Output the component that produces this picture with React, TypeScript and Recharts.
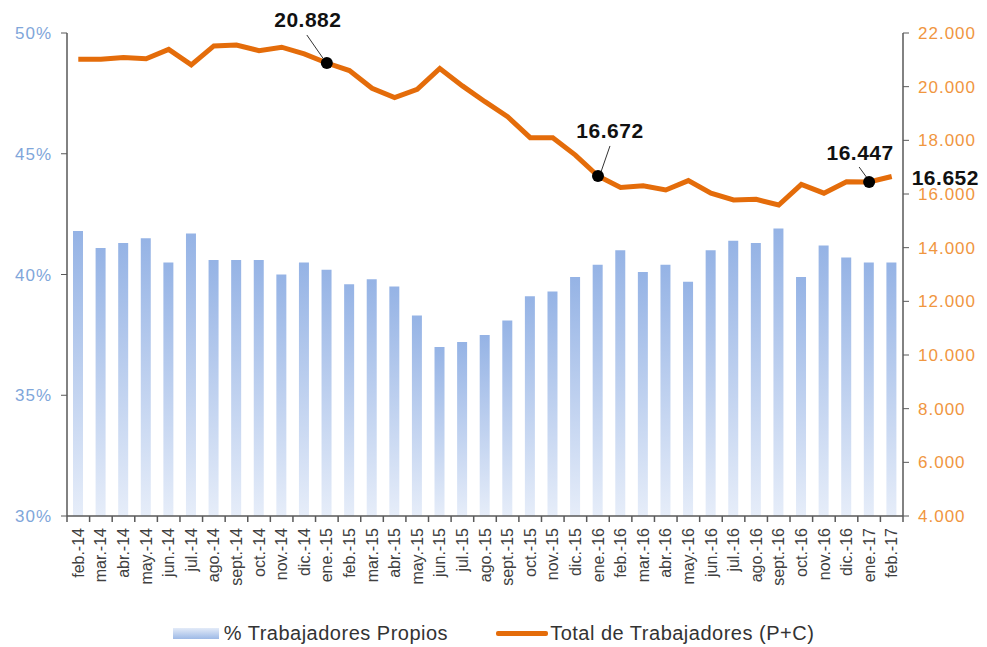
import React from 'react'
import { ComposedChart, Bar, Line, XAxis, YAxis, Legend, LabelList } from 'recharts'

const meses = [
	'feb.-14', 'mar.-14', 'abr.-14', 'may.-14', 'jun.-14', 'jul.-14', 'ago.-14', 'sept.-14', 'oct.-14', 'nov.-14', 'dic.-14',
	'ene.-15', 'feb.-15', 'mar.-15', 'abr.-15', 'may.-15', 'jun.-15', 'jul.-15', 'ago.-15', 'sept.-15', 'oct.-15', 'nov.-15', 'dic.-15',
	'ene.-16', 'feb.-16', 'mar.-16', 'abr.-16', 'may.-16', 'jun.-16', 'jul.-16', 'ago.-16', 'sept.-16', 'oct.-16', 'nov.-16', 'dic.-16',
	'ene.-17', 'feb.-17',
]

// % Trabajadores Propios (eje izquierdo)
const propios = [
	41.8, 41.1, 41.3, 41.5, 40.5, 41.7, 40.6, 40.6, 40.6, 40.0, 40.5,
	40.2, 39.6, 39.8, 39.5, 38.3, 37.0, 37.2, 37.5, 38.1, 39.1, 39.3, 39.9,
	40.4, 41.0, 40.1, 40.4, 39.7, 41.0, 41.4, 41.3, 41.9, 39.9, 41.2, 40.7,
	40.5, 40.5,
]

// Total de Trabajadores (P+C) (eje derecho)
const total = [
	21020, 21020, 21090, 21040, 21390, 20810, 21520, 21550, 21340, 21470, 21220,
	20882, 20600, 19940, 19590, 19900, 20680, 20030, 19440, 18880, 18100, 18100, 17450,
	16672, 16240, 16310, 16150, 16500, 16030, 15780, 15800, 15590, 16360, 16030, 16460,
	16447, 16652,
]

const ticksIzq = [30, 35, 40, 45, 50]
const ticksDer = [4000, 6000, 8000, 10000, 12000, 14000, 16000, 18000, 20000, 22000]

// puntos con etiqueta en la linea
const marcados = ['ene.-15', 'ene.-16', 'ene.-17']
const ultimo = 'feb.-17'

const data = meses.map((mes, i) => ({ mes, propios: propios[i], total: total[i] }))

const W = 987
const H = 647
const IZQ = 67
const DER = 84
const ARRIBA = 33
const banda = (W - IZQ - DER) / meses.length

const NARANJA = '#E46C0A'
const FUENTE = 'Arial, "Liberation Sans", sans-serif'

const miles = (v: number) => String(v).replace(/\B(?=(\d{3})+(?!\d))/g, '.')

// desplazamientos de las etiquetas respecto al punto
const offsets: Record<string, { tx: number; ty: number; l1: [number, number]; l2: [number, number] }> = {
	'ene.-15': { tx: -19, ty: -36, l1: [-20, -28], l2: [-4, -5] },
	'ene.-16': { tx: 12, ty: -38, l1: [12, -30], l2: [3, -4] },
	'ene.-17': { tx: -9, ty: -22, l1: [-10, -15], l2: [-2, -4] },
}

const XTick = (props: any) => {
	const { x, y, payload, index } = props
	const mitad = banda / 2
	return (
		<g>
			<line x1={x - mitad} x2={x - mitad} y1={y - 8} y2={y - 2} stroke="#595959" strokeWidth={1.5} />
			{index === meses.length - 1 && (
				<line x1={x + mitad} x2={x + mitad} y1={y - 8} y2={y - 2} stroke="#595959" strokeWidth={1.5} />
			)}
			<text
				x={x}
				y={y + 4}
				transform={`rotate(-90 ${x} ${y + 4})`}
				textAnchor="end"
				dy="0.35em"
				fill="#404040"
				fontSize={16}
				fontFamily={FUENTE}
			>
				{payload.value}
			</text>
		</g>
	)
}

const Etiqueta = (props: any) => {
	const { x, y, index, value } = props
	const mes = meses[index]
	if (mes === ultimo) {
		return (
			<text x={x + 20} y={y + 8} fontSize={21} fontWeight="bold" fill="#111" fontFamily={FUENTE} letterSpacing={0.5}>
				{miles(value)}
			</text>
		)
	}
	if (!marcados.includes(mes)) return null
	const o = offsets[mes]
	return (
		<g>
			<line x1={x + o.l1[0]} y1={y + o.l1[1]} x2={x + o.l2[0]} y2={y + o.l2[1]} stroke="#333" strokeWidth={1} />
			<circle cx={x} cy={y} r={6} fill="#000" />
			<text x={x + o.tx} y={y + o.ty} textAnchor="middle" fontSize={21} fontWeight="bold" fill="#111" fontFamily={FUENTE} letterSpacing={0.5}>
				{miles(value)}
			</text>
		</g>
	)
}

const Leyenda = () => (
	<div
		style={{
			display: 'flex',
			justifyContent: 'center',
			alignItems: 'center',
			fontFamily: FUENTE,
			fontSize: 20,
			letterSpacing: 0.5,
			color: '#333',
			paddingTop: 6,
		}}
	>
		<span
			style={{
				display: 'inline-block',
				width: 46,
				height: 11,
				background: 'linear-gradient(#E3EBF8, #9DB9E6)',
				marginRight: 5,
			}}
		/>
		<span>% Trabajadores Propios</span>
		<span style={{ display: 'inline-block', width: 52, height: 5, background: NARANJA, borderRadius: 2, marginLeft: 48, marginRight: 2 }} />
		<span>Total de Trabajadores (P+C)</span>
	</div>
)

export default function App() {
	return (
		<div style={{ position: 'absolute', left: 0, top: 0, width: W, height: H, background: '#fff' }}>
			<ComposedChart width={W} height={H} data={data} margin={{ top: ARRIBA, right: 0, left: 0, bottom: 0 }}>
				<defs>
					<linearGradient id="gradPropios" x1="0" y1="0" x2="0" y2="1">
						<stop offset="0%" stopColor="#95B3E5" />
						<stop offset="100%" stopColor="#E6EDF9" />
					</linearGradient>
				</defs>
				<XAxis
					dataKey="mes"
					interval={0}
					height={100}
					tick={<XTick />}
					tickLine={false}
					axisLine={{ stroke: '#595959', strokeWidth: 1.5 }}
				/>
				<YAxis
					yAxisId="izq"
					width={IZQ}
					domain={[30, 50]}
					ticks={ticksIzq}
					tickFormatter={(v: number) => `${v}%`}
					tick={{ fill: '#7FA6DA', fontSize: 17, fontFamily: FUENTE, letterSpacing: 1 }}
					tickSize={6}
					tickMargin={9}
					tickLine={{ stroke: '#595959' }}
					axisLine={{ stroke: '#595959', strokeWidth: 1.5 }}
					allowDataOverflow
				/>
				<YAxis
					yAxisId="der"
					orientation="right"
					width={DER}
					domain={[4000, 22000]}
					ticks={ticksDer}
					tickFormatter={miles}
					tick={{ fill: '#F0963F', fontSize: 17, fontFamily: FUENTE, textAnchor: 'start', letterSpacing: 1 }}
					tickSize={6}
					tickMargin={9}
					tickLine={{ stroke: '#595959' }}
					axisLine={{ stroke: '#595959', strokeWidth: 1.5 }}
					allowDataOverflow
				/>
				<Legend
					verticalAlign="bottom"
					height={31}
					content={<Leyenda />}
				/>
				<Bar yAxisId="izq" dataKey="propios" name="% Trabajadores Propios" fill="url(#gradPropios)" barSize={10} isAnimationActive={false} />
				<Line
					yAxisId="der"
					dataKey="total"
					name="Total de Trabajadores (P+C)"
					type="linear"
					stroke={NARANJA}
					strokeWidth={5}
					dot={false}
					activeDot={false}
					isAnimationActive={false}
				>
					<LabelList dataKey="total" content={<Etiqueta />} />
				</Line>
			</ComposedChart>
		</div>
	)
}
